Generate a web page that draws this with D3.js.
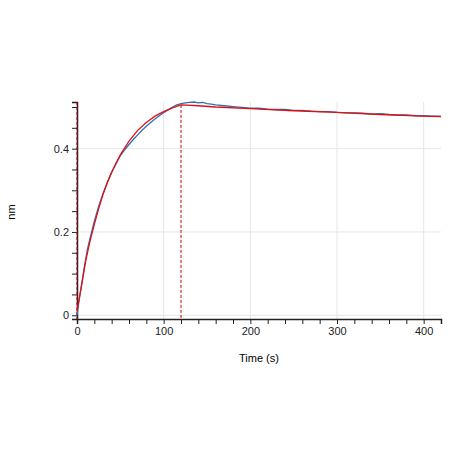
<!DOCTYPE html><html><head><script src="https://cdn.jsdelivr.net/npm/d3@7"></script>
<style>body{margin:0;background:#fff}text{font-family:Arial,"Liberation Sans",sans-serif}</style></head><body>
<svg id="c" width="450" height="451"></svg>
<script>
const fitT=[0,3,6,10,15,20,25,30,35,40,45,50,60,70,80,90,100,110,120,140,160,200,250,300,350,400,420];
const fitY=[0.01,0.045,0.08,0.13,0.178,0.218,0.256,0.29,0.318,0.343,0.365,0.385,0.418,0.444,0.463,0.478,0.489,0.498,0.505,0.503,0.5,0.496,0.491,0.487,0.482,0.478,0.477];
const rawT=[0,2,5,8,12,16,20,25,30,35,40,45,50,55,60,65,70,75,80,85,90,95,100,105,110,115,120,125,130,135,140,145,150,155,160,170,180,190,200,210,220,230,240,250,260,270,280,290,300,310,320,330,340,350,360,370,380,390,400,410,420];
const rawY=[0.0,0.03,0.07,0.11,0.158,0.193,0.226,0.262,0.292,0.32,0.344,0.364,0.383,0.397,0.41,0.422,0.433,0.444,0.454,0.463,0.471,0.479,0.486,0.493,0.499,0.505,0.508,0.51,0.511,0.512,0.51,0.511,0.508,0.507,0.505,0.503,0.501,0.499,0.497,0.497,0.495,0.494,0.494,0.492,0.492,0.49,0.489,0.489,0.487,0.486,0.486,0.485,0.483,0.484,0.482,0.481,0.481,0.479,0.479,0.478,0.478];
const xTicks=[0,100,200,300,400], yTicks=[0,0.2,0.4];
const svg=d3.select("#c");
const x=d3.scaleLinear().domain([0,420]).range([77,441]);
const y=d3.scaleLinear().domain([-0.009,0.512]).range([319,102]);
const g=svg.append("g");
xTicks.forEach(t=>g.append("line").attr("x1",x(t)).attr("x2",x(t)).attr("y1",102).attr("y2",319).attr("stroke","#e6e6e6"));
yTicks.forEach(t=>g.append("line").attr("x1",77).attr("x2",441).attr("y1",y(t)).attr("y2",y(t)).attr("stroke","#e6e6e6"));
const xa=svg.append("g").attr("transform","translate(0,319)").call(d3.axisBottom(x).tickValues(d3.range(0,421,20)).tickSize(5).tickFormat(d=>xTicks.includes(d)?d:""));
xa.selectAll("text").attr("font-size",11).attr("fill","#222");
const ya=svg.append("g").attr("transform","translate(77,0)").call(d3.axisLeft(y).tickValues(d3.range(0,0.51,0.05)).tickSize(5).tickFormat(d=>yTicks.some(v=>Math.abs(v-d)<1e-6)?d3.format("~g")(d):""));
ya.selectAll("text").attr("font-size",11).attr("fill","#222");
[xa,ya].forEach(a=>{a.select(".domain").attr("stroke","#222").attr("stroke-width",1.5);a.selectAll(".tick line").attr("stroke","#222");});
svg.append("line").attr("x1",x(0)).attr("x2",x(0)).attr("y1",102).attr("y2",319).attr("stroke","#b00").attr("stroke-dasharray","3,2");
svg.append("line").attr("x1",x(120)).attr("x2",x(120)).attr("y1",y(0.505)).attr("y2",319).attr("stroke","#c00").attr("stroke-dasharray","3,2");
const line=d3.line().x(d=>x(d[0])).y(d=>y(d[1]));
svg.append("path").attr("d",line(rawT.map((t,i)=>[t,rawY[i]]))).attr("fill","none").attr("stroke","#2f6fb8").attr("stroke-width",1.3);
svg.append("path").attr("d",line(fitT.map((t,i)=>[t,fitY[i]]))).attr("fill","none").attr("stroke","#e01010").attr("stroke-width",1.3);
svg.append("text").attr("x",259).attr("y",362).attr("text-anchor","middle").attr("font-size",11).text("Time (s)");
svg.append("text").attr("transform","translate(15,212) rotate(-90)").attr("text-anchor","middle").attr("font-size",11).text("nm");
</script></body></html>
